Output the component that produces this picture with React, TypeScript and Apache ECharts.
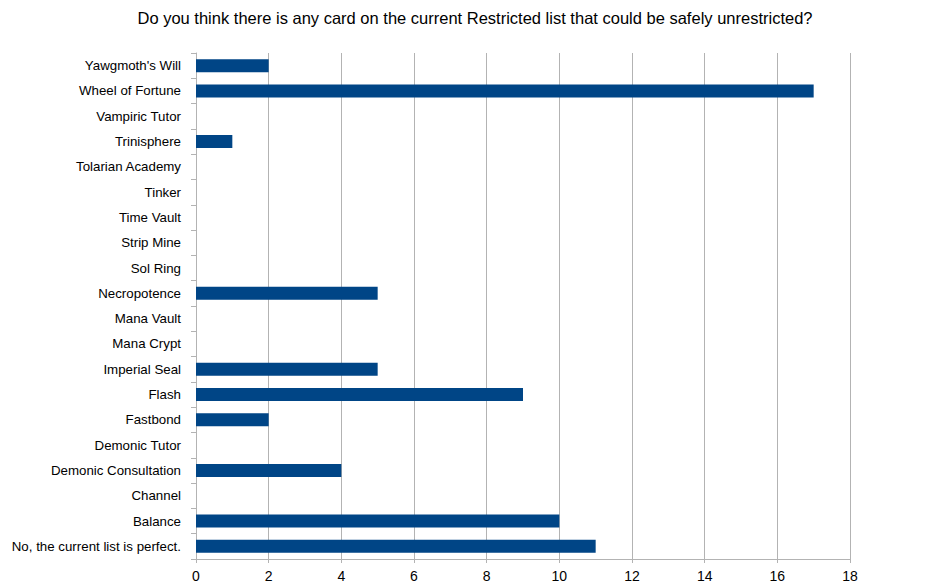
import React, { useEffect, useRef } from "react";
import * as echarts from "echarts";

const titleText = "Do you think there is any card on the current Restricted list that could be safely unrestricted?";

// bottom to top
const categories = [
  "No, the current list is perfect.",
  "Balance",
  "Channel",
  "Demonic Consultation",
  "Demonic Tutor",
  "Fastbond",
  "Flash",
  "Imperial Seal",
  "Mana Crypt",
  "Mana Vault",
  "Necropotence",
  "Sol Ring",
  "Strip Mine",
  "Time Vault",
  "Tinker",
  "Tolarian Academy",
  "Trinisphere",
  "Vampiric Tutor",
  "Wheel of Fortune",
  "Yawgmoth's Will",
];

const votes = [11, 10, 0, 4, 0, 2, 9, 5, 0, 0, 5, 0, 0, 0, 0, 0, 1, 0, 17, 2];

const xTicks = { min: 0, max: 18, interval: 2 };

export default function App() {
  const ref = useRef<HTMLDivElement>(null);
  useEffect(() => {
    if (!ref.current) return;
    const chart = echarts.init(ref.current, undefined, { renderer: "svg" });
    chart.setOption({
      animation: false,
      backgroundColor: "#ffffff",
      title: {
        text: titleText,
        left: 470,
        top: 4,
        textAlign: "center",
        textStyle: {
          fontFamily: "Liberation Sans, Arial, sans-serif",
          fontSize: 16.5,
          fontWeight: "normal",
          color: "#000000",
        },
      },
      grid: { left: 196, right: 88, top: 53, bottom: 25, containLabel: false },
      xAxis: {
        type: "value",
        min: xTicks.min,
        max: xTicks.max,
        interval: xTicks.interval,
        axisLine: { show: true, lineStyle: { color: "#b3b3b3" } },
        axisTick: { show: true, length: 4, lineStyle: { color: "#b3b3b3" } },
        splitLine: { show: true, lineStyle: { color: "#b3b3b3", width: 1 } },
        axisLabel: {
          fontFamily: "Liberation Sans, Arial, sans-serif",
          fontSize: 14,
          color: "#000000",
          margin: 10,
        },
      },
      yAxis: {
        type: "category",
        data: categories,
        axisLine: { show: true, lineStyle: { color: "#b3b3b3" } },
        axisTick: { show: true, length: 5, lineStyle: { color: "#b3b3b3" } },
        axisLabel: {
          fontFamily: "Liberation Sans, Arial, sans-serif",
          fontSize: 13.3,
          color: "#000000",
          margin: 15,
        },
      },
      series: [
        {
          type: "bar",
          data: votes,
          barWidth: 13,
          itemStyle: { color: "#004586" },
        },
      ],
    });
    return () => chart.dispose();
  }, []);
  return <div ref={ref} style={{ width: 938, height: 584, position: "absolute", left: 0, top: 0 }} />;
}
